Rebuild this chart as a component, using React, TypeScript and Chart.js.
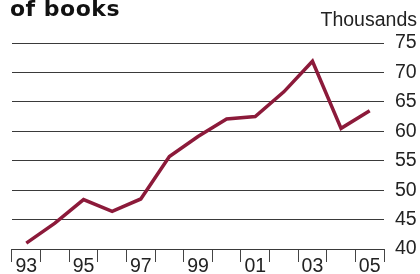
import React, { useEffect, useRef } from 'react';
import { Chart, registerables } from 'chart.js';

Chart.register(...registerables);

const years = ["93", "94", "95", "96", "97", "98", "99", "00", "01", "02", "03", "04", "05"];
const shownYearLabels = ["93", "95", "97", "99", "01", "03", "05"];
const books = [41, 44.4, 48.4, 46.4, 48.5, 55.7, 59.1, 62.1, 62.5, 66.7, 71.9, 60.5, 63.5];
const yMin = 40;
const yMax = 75;
const yStep = 5;
const titleText = "of books";
const unitText = "Thousands";

const textPlugin = {
  id: 'textPlugin',
  afterDraw(chart: any) {
    const ctx = chart.ctx;
    ctx.save();
    ctx.fillStyle = '#111';
    ctx.font = 'bold 22px "DejaVu Sans"';
    try { (ctx as any).letterSpacing = '0.5px'; } catch (e) {}
    ctx.textAlign = 'left';
    ctx.textBaseline = 'alphabetic';
    ctx.fillText(titleText, 10, 15.5);
    try { (ctx as any).letterSpacing = '0px'; } catch (e) {}
    ctx.fillStyle = '#222';
    ctx.font = '19.5px "Liberation Sans"';
    ctx.textAlign = 'right';
    ctx.fillText(unitText, 417, 26);
    ctx.restore();
  },
};

export default function App() {
  const ref = useRef<HTMLCanvasElement>(null);
  useEffect(() => {
    if (!ref.current) return;
    const font = { family: 'Liberation Sans', size: 19.5 };
    const chart = new Chart(ref.current, {
      type: 'line',
      data: {
        labels: years,
        datasets: [
          {
            data: books,
            borderColor: '#8c1a3a',
            borderWidth: 3.5,
            pointRadius: 0,
            tension: 0,
            fill: false,
          },
        ],
      },
      options: {
        animation: false,
        responsive: false,
        devicePixelRatio: 1,
        layout: { padding: { left: 12, top: 43, right: 0, bottom: 0 } },
        plugins: { legend: { display: false }, tooltip: { enabled: false }, title: { display: false } },
        scales: {
          x: {
            type: 'category',
            offset: true,
            grid: { offset: true, drawOnChartArea: false, drawTicks: true, tickLength: 13, color: '#444', lineWidth: 1 },
            border: { display: false },
            ticks: {
              autoSkip: false,
              maxRotation: 0,
              minRotation: 0,
              padding: -7,
              font,
              color: '#222',
              callback: (_v: any, i: number) => (shownYearLabels.includes(years[i]) ? years[i] : ''),
            },
            afterFit: (s: any) => {
              s.height = 25;
            },
          },
          y: {
            position: 'right',
            min: yMin,
            max: yMax,
            grid: { drawTicks: false, color: '#3a3a3a', lineWidth: 1 },
            border: { display: false },
            ticks: { stepSize: yStep, padding: 11, font, color: '#222' },
            afterFit: (s: any) => {
              s.width = 36;
            },
          },
        },
      },
      plugins: [textPlugin],
    });
    return () => chart.destroy();
  }, []);
  return (
    <div style={{ position: 'fixed', left: 0, top: 0, width: 420, height: 274, background: '#fff' }}>
      <canvas ref={ref} width={420} height={274} style={{ width: 420, height: 274, display: 'block' }} />
    </div>
  );
}
